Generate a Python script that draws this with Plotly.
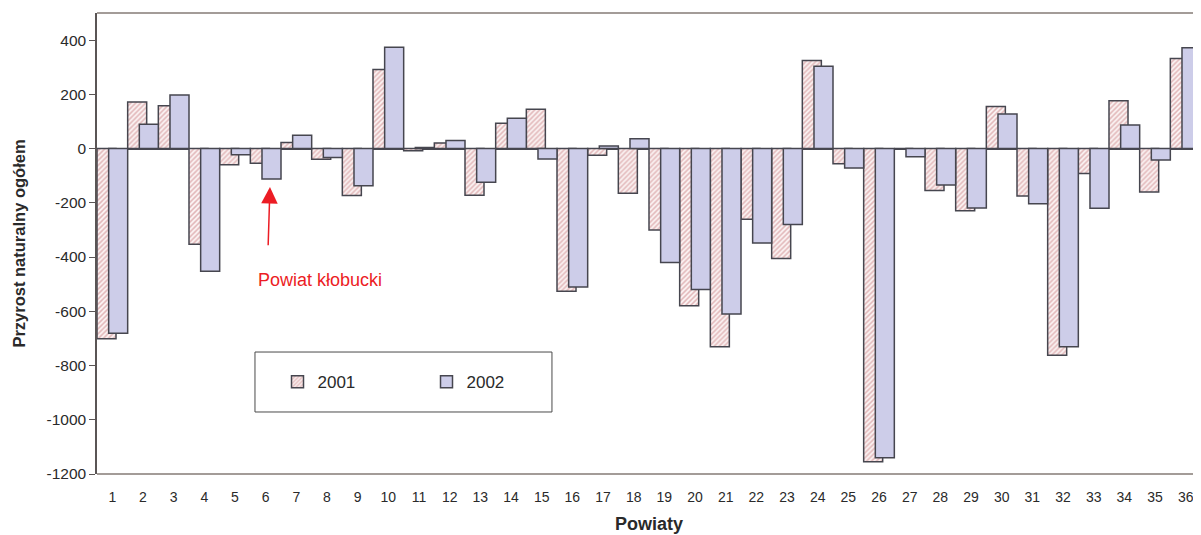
import plotly.graph_objects as go

categories = list(range(1, 37))
tick_labels = [str(c) for c in categories]
y2001 = [-701, 172, 158, -353, -60, -54, 22, -39, -173, 292,
         -8, 21, -172, 93, 145, -526, -25, -165, -300, -580,
         -731, -261, -405, 325, -56, -1155, 0, -155, -229, 155,
         -175, -762, -92, 176, -160, 332]
y2002 = [-681, 90, 198, -452, -23, -112, 49, -33, -137, 374,
         4, 30, -124, 112, -38, -510, 10, 36, -420, -520,
         -610, -348, -280, 304, -72, -1140, -30, -134, -219, 128,
         -203, -731, -220, 87, -42, 372]
series_names = ["2001", "2002"]
y_ticks = [400, 200, 0, -200, -400, -600, -800, -1000, -1200]
y_tick_text = ["400", "200", "0", "-200", "-400", "-600", "-800", "-1000", "-1200"]

FONT = "Liberation Sans, Arial, sans-serif"
EDGE = "#46464f"
TXT = "#2a2a2a"

fig = go.Figure()
fig.add_trace(go.Bar(
    x=categories, y=y2001, name=series_names[0],
    width=0.62, offset=-0.5,
    marker=dict(color="white",
                line=dict(color=EDGE, width=1.5),
                pattern=dict(shape="/", fgcolor="#c97c80", bgcolor="#fbf3f3",
                             size=3.5, solidity=0.45)),
))
fig.add_trace(go.Bar(
    x=categories, y=y2002, name=series_names[1],
    width=0.62, offset=-0.12,
    marker=dict(color="#cdcde9", line=dict(color=EDGE, width=1.5)),
))

fig.update_layout(
    width=1193, height=527,
    margin=dict(l=89, r=0, t=5, b=61),
    paper_bgcolor="white", plot_bgcolor="white",
    barmode="overlay",
    font=dict(family=FONT, color=TXT),
    showlegend=True,
    legend=dict(orientation="h", x=0.1635, y=0.199, xanchor="left", yanchor="middle",
                bgcolor="rgba(0,0,0,0)", borderwidth=0,
                font=dict(size=17, family=FONT, color=TXT),
                entrywidth=104, itemwidth=30, traceorder="normal"),
    xaxis=dict(range=[0.5, 36.5], tickmode="array", tickvals=categories, ticktext=tick_labels,
               showgrid=False, zeroline=False, showline=False, ticks="",
               ticklabelstandoff=13,
               tickfont=dict(size=14, family=FONT, color=TXT),
               title=dict(text="<b>Powiaty</b>", font=dict(size=18, family=FONT, color=TXT),
                          standoff=13)),
    yaxis=dict(range=[-1200, 500], tickmode="array", tickvals=y_ticks, ticktext=y_tick_text,
               showgrid=False, zeroline=True, zerolinecolor="#4a4a52", zerolinewidth=2,
               showline=True, linecolor="#5a5555", linewidth=1.5,
               ticks="outside", ticklen=6, tickcolor="#5a5555",
               tickfont=dict(size=15.5, family=FONT, color=TXT),
               title=dict(text="<b>Przyrost naturalny ogółem</b>",
                          font=dict(size=16.5, family=FONT, color=TXT), standoff=17)),
)

# plot area border (top / bottom)
fig.add_shape(type="line", xref="paper", yref="paper", x0=0, x1=1, y0=1, y1=1,
              line=dict(color="#a39c98", width=2), layer="above")
fig.add_shape(type="line", xref="paper", yref="paper", x0=0, x1=1, y0=0, y1=0,
              line=dict(color="#a39c98", width=2), layer="above")
# legend frame
fig.add_shape(type="rect", xref="paper", yref="paper", x0=0.1431, x1=0.4121, y0=0.1345, y1=0.2646,
              line=dict(color="#4a4a4a", width=1), fillcolor="rgba(0,0,0,0)")

# arrow and label
fig.add_annotation(x=6.14, y=-142, ax=6.08, ay=-362, xref="x", yref="y", axref="x", ayref="y",
                   text="", showarrow=True, arrowhead=2, arrowsize=2.2, arrowwidth=1.5,
                   arrowcolor="#ec1c24")
fig.add_annotation(x=5.67, y=-485, xref="x", yref="y", xanchor="left", yanchor="middle",
                   text="Powiat kłobucki", showarrow=False,
                   font=dict(size=18, family=FONT, color="#ec1c24"))

fig.write_html("out.html")
